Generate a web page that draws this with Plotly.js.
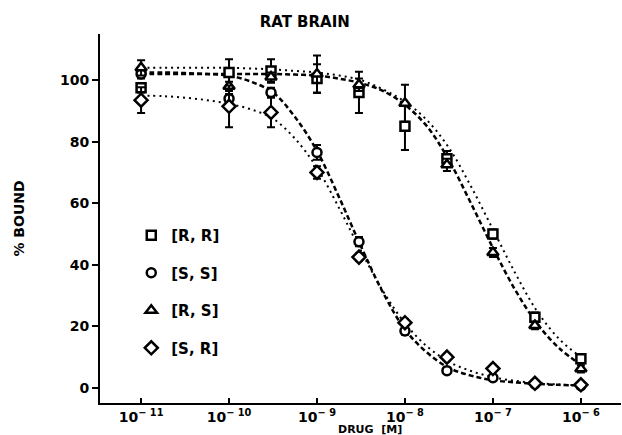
<!DOCTYPE html>
<html>
<head>
<meta charset="utf-8">
<script src="https://cdn.plot.ly/plotly-3.0.1.min.js"></script>
<style>html,body{margin:0;padding:0;background:#fff;}#chart{width:622px;height:435px;}</style>
</head>
<body>
<div id="chart"></div>
<script>
// Concentrations (M) at which binding was measured
const conc = [1e-11, 1e-10, 3e-10, 1e-9, 3e-9, 1e-8, 3e-8, 1e-7, 3e-7, 1e-6];

// % bound
const rrVals = [97.5, 102.5, 103, 100.5, 96, 85, 74.5, 50, 23, 9.5];
const rrErr  = [1.5, 4.3, 3.8, 4.7, 6.7, 7.7, 2.5, 1.5, 1.5, 1.2];
const ssVals = [102, 94, 96, 76.5, 47.5, 18.5, 5.6, 3.3, 1.3, 0.7];
const ssErr  = [1.5, 1.5, 1.5, 2.4, 1.5, 1.2, 1, 0.8, 0.5, 0.5];
const rsVals = [104, 98, 101, 102, 98.5, 92.5, 72.5, 44, 20.3, 6.2];
const rsErr  = [2.5, 1.5, 1.5, 6, 2, 6, 2, 1.5, 1.2, 1.2];
const srVals = [93.5, 91.5, 89.5, 70, 42.5, 21.2, 10, 6.3, 1.5, 1];
const srErr  = [4.2, 6.8, 4.8, 2, 1.2, 1.2, 1, 0.8, 0.5, 0.5];

// Fitted curves at quarter-decade steps (log10 M)
const curveLog = [-11, -10.75, -10.5, -10.25, -10, -9.75, -9.5, -9.25, -9, -8.75, -8.5, -8.25, -8, -7.75, -7.5, -7.25, -7, -6.75, -6.5, -6.25, -6];
const rrCurve = [104, 104, 104, 104, 104, 103.8, 103.5, 103, 102.5, 101.5, 100, 97, 93, 87, 78, 65.5, 51.5, 37.5, 25, 16, 10];
const rsCurve = [102, 102, 102, 102, 102, 102, 102, 101.8, 101.5, 100.5, 99, 96.5, 92, 85, 74, 60, 45.5, 32, 21, 13, 7.5];
const ssCurve = [102.5, 102.5, 102.3, 102, 101.5, 99.5, 96, 88, 77, 62, 46, 31, 19, 11.5, 6.5, 4, 2.5, 1.8, 1.3, 1, 0.8];
const srCurve = [95, 94.8, 94.3, 93.5, 92.3, 90.5, 87.5, 81, 71.5, 58.5, 44.5, 31.5, 21, 13.5, 8.5, 5.5, 3.5, 2.3, 1.6, 1.1, 0.8];

// Tick labels
const xTickVals = [1e-11, 1e-10, 1e-9, 1e-8, 1e-7, 1e-6];
const xTickText = ['10<sup>− 11</sup>', '10<sup>− 10</sup>', '10<sup>− 9</sup>', '10<sup>− 8</sup>', '10<sup>− 7</sup>', '10<sup>− 6</sup>'];
const yTickVals = [0, 20, 40, 60, 80, 100];

const names = ['[R, R]', '[S, S]', '[R, S]', '[S, R]'];

const curveX = curveLog.map(v => Math.pow(10, v));
const FONT = 'DejaVu Sans, Verdana, sans-serif';

function curve(y, dash, w) {
  return {x: curveX, y: y, mode: 'lines', line: {shape: 'spline', color: '#000', width: w, dash: dash}, showlegend: false, hoverinfo: 'skip'};
}
function pts(y, err, sym, name, sz) {
  return {
    x: conc, y: y, name: name, mode: 'markers', legendgroup: name,
    marker: {symbol: sym, size: sz, color: '#fff', line: {color: '#000', width: 2.5}},
    error_y: {type: 'data', array: err, visible: true, color: '#000', thickness: 2, width: 4}
  };
}

const data = [
  curve(rrCurve, '2px,4px', 2),
  curve(rsCurve, '5px,3px', 2.5),
  curve(ssCurve, '5px,3px', 2.5),
  curve(srCurve, '2px,4px', 2),
  pts(rrVals, rrErr, 'square', names[0], 9),
  pts(ssVals, ssErr, 'circle', names[1], 9),
  pts(rsVals, rsErr, 'triangle-up', names[2], 10),
  pts(srVals, srErr, 'diamond', names[3], 10)
];

const layout = {
  width: 622, height: 435,
  margin: {l: 100, r: 1, t: 34, b: 32},
  paper_bgcolor: '#fff', plot_bgcolor: '#fff',
  font: {family: FONT, color: '#000', size: 13},
  title: {text: 'RAT BRAIN', x: 0.393, xref: 'paper', xanchor: 'center', y: 0.95, yref: 'container', yanchor: 'middle', font: {family: FONT, size: 15, weight: 'bold', color: '#000'}},
  xaxis: {
    type: 'log', range: [-11.467, -5.544],
    tickvals: xTickVals, ticktext: xTickText,
    ticks: 'inside', ticklen: 5, tickwidth: 2, tickcolor: '#000',
    showline: true, linewidth: 2, linecolor: '#000',
    showgrid: false, zeroline: false,
    tickfont: {family: FONT, size: 14, weight: 'bold', color: '#000'}
  },
  yaxis: {
    range: [-4.9, 115], tickvals: yTickVals,
    ticks: 'outside', ticklen: 6, tickwidth: 2, tickcolor: '#000',
    showline: true, linewidth: 2, linecolor: '#000',
    showgrid: false, zeroline: false,
    tickfont: {family: FONT, size: 14, weight: 'bold', color: '#000'},
    title: {text: '% BOUND', standoff: 32, font: {family: FONT, size: 14, weight: 'bold', color: '#000'}}
  },
  showlegend: true,
  legend: {x: 0.06, xanchor: 'left', y: 0.4986, yanchor: 'top', bgcolor: 'rgba(0,0,0,0)', tracegroupgap: 15,
    font: {family: FONT, size: 15, weight: 'bold', color: '#000'}},
  annotations: [
    {text: 'DRUG  [M]', xref: 'paper', yref: 'paper', x: 0.518, y: -0.0705, xanchor: 'center', yanchor: 'middle', showarrow: false,
     font: {family: FONT, size: 11, weight: 'bold', color: '#000'}}
  ]
};

Plotly.newPlot('chart', data, layout, {displayModeBar: false, staticPlot: true});
</script>
</body>
</html>
